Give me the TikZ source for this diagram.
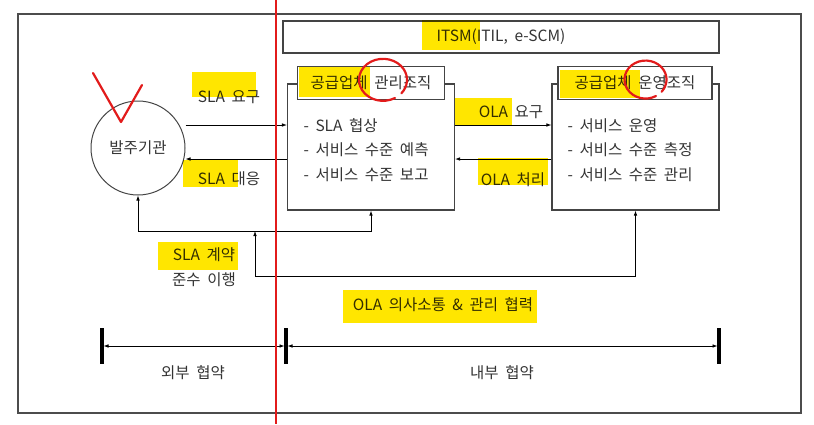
\documentclass[tikz,border=0pt]{standalone}
\usepackage{fontspec}
\setmainfont{Noto Sans CJK KR}[WordSpace=1.9]
\usetikzlibrary{positioning,arrows.meta,calc}
\definecolor{inkgray}{HTML}{333333}
\definecolor{linegray}{HTML}{444444}
\definecolor{markyellow}{HTML}{FFE600}
\definecolor{penred}{HTML}{E21B1B}

\begin{document}
\begin{tikzpicture}[
    x=1pt, y=-1pt,
    font=\fontsize{15.5}{24.5}\selectfont,
    >={Latex[length=5pt,width=3.6pt]},
    every node/.style={text=inkgray},
    orgbox/.style={draw=linegray, line width=1.1pt, minimum width=167pt, minimum height=126pt},
    titlebox/.style={draw=linegray, line width=1.1pt, fill=white, minimum height=33pt},
    flow/.style={->, draw=black, line width=0.8pt},
    dimtick/.style={line width=3.5pt, draw=black},
    marker/.style={fill=markyellow},
    pen/.style={draw=penred, line width=2.2pt, line cap=round, line join=round}
]
    \useasboundingbox (0,0) rectangle (814,424);

    % 1. Cornice esterna
    \draw[draw=gray!60!black, line width=1.1pt] (18,14) rectangle (801,413);

    % 2. Riquadri
    \node[draw=linegray, line width=1.1pt, minimum width=436pt, minimum height=32pt] (itsm) at (501,37) {ITSM(ITIL, e-SCM)};

    \node[orgbox] (lbox) at (371,147) {};
    \node[titlebox, minimum width=147pt] (ltitle) at (371,83) {공급업체 관리조직};
    \node[anchor=west, align=left] (lbody) at (300,150) {- SLA 협상\\- 서비스 수준 예측\\- 서비스 수준 보고};

    \node[orgbox] (rbox) at (635.5,147) {};
    \node[titlebox, minimum width=154pt] (rtitle) at (635,83) {공급업체 운영조직};
    \node[anchor=west, align=left] (rbody) at (564,150) {- 서비스 운영\\- 서비스 수준 측정\\- 서비스 수준 관리};

    \node[circle, draw=linegray, line width=1pt, minimum size=94pt] (client) at (138,148) {발주기관};

    % 3. Collegamenti
    \coordinate (reqline) at (0,125);
    \coordinate (resline) at (0,159);
    \coordinate (bus1) at (0,231);
    \coordinate (bus2) at (0,276);
    \coordinate (tap) at (255,231);

    \draw[flow] (client.east |- reqline) -- (lbox.west |- reqline);
    \draw[flow] (lbox.west |- resline) -- (client.east |- resline);
    \draw[flow] (lbox.east |- reqline) -- (rbox.west |- reqline);
    \draw[flow] (rbox.west |- resline) -- (lbox.east |- resline);
    \draw[flow, <->] (client.south) |- (bus1 -| lbox.south) -- (lbox.south);
    \draw[flow, <->] (tap) -- (tap |- bus2) -| (rbox.south);

    % 4. Etichette
    \node (slareq) at (229,97) {SLA 요구};
    \node (slares) at (229,179) {SLA 대응};
    \node (olareq) at (511,112) {OLA 요구};
    \node (olares) at (513,180) {OLA 처리};
    \node[align=center] (slacon) at (204,267) {SLA 계약\\준수 이행};
    \node (olacom) at (443,305) {OLA 의사소통 \& 관리 협력};

    % 5. Quote
    \coordinate (dimL) at (102,346);
    \coordinate (dimM) at (286,346);
    \coordinate (dimR) at (719,346);
    \foreach \p in {dimL,dimM,dimR}
        \draw[dimtick] (\p) ++(0,-18) -- ++(0,36);
    \draw[flow, <->, shorten <=1.5pt, shorten >=1.5pt] (dimL) -- (dimM);
    \draw[flow, <->, shorten <=1.5pt, shorten >=1.5pt] (dimM) -- (dimR);
    \node (extlbl) at (193,373) {외부 협약};
    \node (intlbl) at (502,373) {내부 협약};

    % 6. Evidenziatore
    \begin{scope}[blend mode=multiply]
        \fill[marker] (422,20) rectangle (480,50);
        \fill[marker] (299,67) rectangle (370,97);
        \fill[marker] (192,72) rectangle (256,97);
        \fill[marker] (183,160) rectangle (238,187);
        \fill[marker] (455,98) rectangle (512,125);
        \fill[marker] (478,158) rectangle (548,185);
        \fill[marker] (560,70) rectangle (640,98);
        \fill[marker] (158,242) rectangle (238,270);
        \fill[marker] (343,290) rectangle (537,323);
    \end{scope}

    % 7. Segni a penna
    \draw[pen, line width=2.6pt, line cap=butt] (276,0) -- (276,424);
    \draw[pen] (93,73) -- (121,122) -- (142,85);
    \draw[pen] (395,98) arc[start angle=60, end angle=400, x radius=24, y radius=21];
    \draw[pen] (656,96) arc[start angle=60, end angle=400, x radius=21, y radius=19];
\end{tikzpicture}
\end{document}
